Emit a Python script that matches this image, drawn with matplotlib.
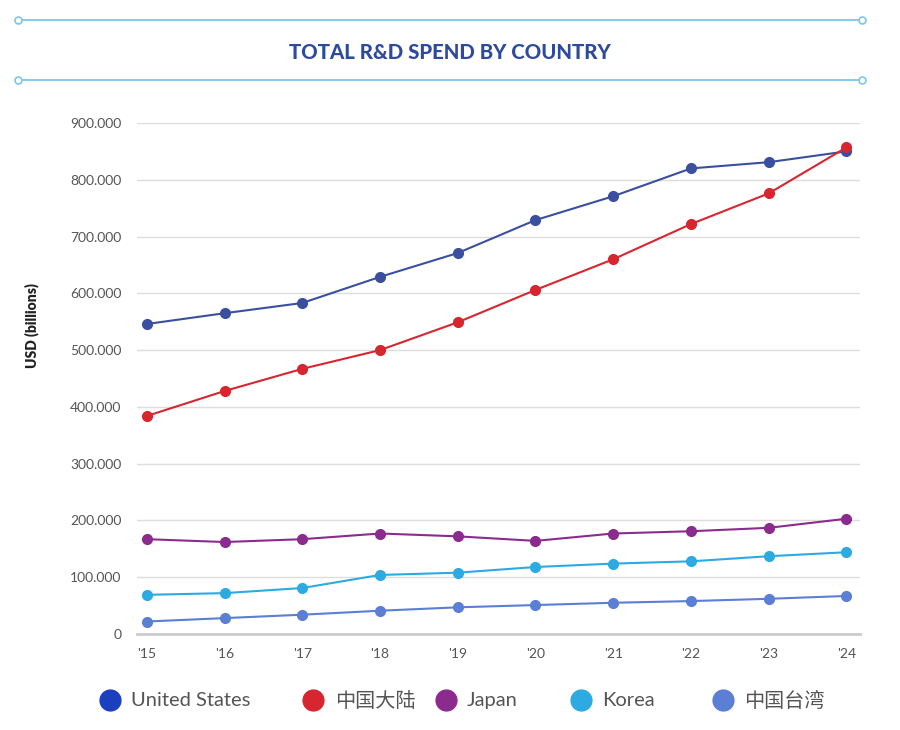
import matplotlib.pyplot as plt
from matplotlib.lines import Line2D
from matplotlib.ticker import FuncFormatter

plt.rcParams['font.family'] = ['Lato', 'Noto Sans CJK SC', 'DejaVu Sans']

years = ["'15", "'16", "'17", "'18", "'19", "'20", "'21", "'22", "'23", "'24"]
us = [546, 565, 583, 629, 671, 729, 771, 820, 831, 850]
china = [384, 428, 467, 500, 549, 606, 660, 722, 776, 857]
japan = [167, 162, 167, 177, 172, 164, 177, 181, 187, 203]
korea = [69, 72, 81, 104, 108, 118, 124, 128, 137, 144]
taiwan = [22, 28, 34, 41, 47, 51, 55, 58, 62, 67]

names = ["United States", "中国大陆", "Japan", "Korea", "中国台湾"]
series = [us, china, japan, korea, taiwan]
line_colors = ["#3A4FA0", "#D7262F", "#8B2B8E", "#2DAAE1", "#5B7FD4"]
legend_colors = ["#1C3FBF", "#D7262F", "#8B2B8E", "#2DAAE1", "#5B7FD4"]

fig = plt.figure(figsize=(9, 7.3), dpi=100)
ax = fig.add_axes([0.152, 0.1315, 0.804, 0.70])

x = list(range(len(years)))
for vals, c in zip(series, line_colors):
    ax.plot(x, [v * 1000 for v in vals], color=c, lw=1.5, marker='o', ms=7,
            clip_on=False, zorder=3)

ax.set_xlim(-0.129, 9.18)
ax.set_ylim(0, 900000)
ax.set_yticks(range(0, 900001, 100000))
ax.yaxis.set_major_formatter(FuncFormatter(
    lambda v, p: '0' if v == 0 else f"{int(v):,}".replace(',', '.')))
ax.set_xticks(x)
ax.set_xticklabels(years)
ax.tick_params(length=0, labelsize=10, colors='#555555', pad=10)
ax.tick_params(axis='y', pad=11)
ax.grid(axis='y', color='#dddddd', lw=1)
ax.set_axisbelow(True)
for s in ['top', 'right', 'left']:
    ax.spines[s].set_visible(False)
ax.spines['bottom'].set_color('#cccccc')
ax.spines['bottom'].set_linewidth(2)
ax.set_ylabel('USD (billions)', fontsize=10, fontweight='heavy', color='#222222')
ax.yaxis.set_label_coords(-0.135, 0.603)

# title with decorative rules
fig.text(0.5, 0.928, 'TOTAL R&D SPEND BY COUNTRY', ha='center', va='center',
         fontsize=14.7, fontweight='black', color='#2E4A9E')
for yy in [0.972, 0.890]:
    fig.add_artist(Line2D([0.02, 0.958], [yy, yy], color='#7CC7E8', lw=1.3))
    fig.add_artist(Line2D([0.02, 0.958], [yy, yy], color='#7CC7E8', lw=0,
                          marker='o', ms=5, mfc='white', mec='#7CC7E8', mew=1.2))

# legend
lx = [0.122, 0.348, 0.495, 0.645, 0.803]
for px, name, c in zip(lx, names, legend_colors):
    fig.add_artist(Line2D([px], [0.041], marker='o', ms=15, color=c, lw=0))
    fig.text(px + 0.024, 0.041, name, ha='left', va='center', fontsize=14.5,
             color='#555555')

fig.savefig('out.png', dpi=100, facecolor='white')
